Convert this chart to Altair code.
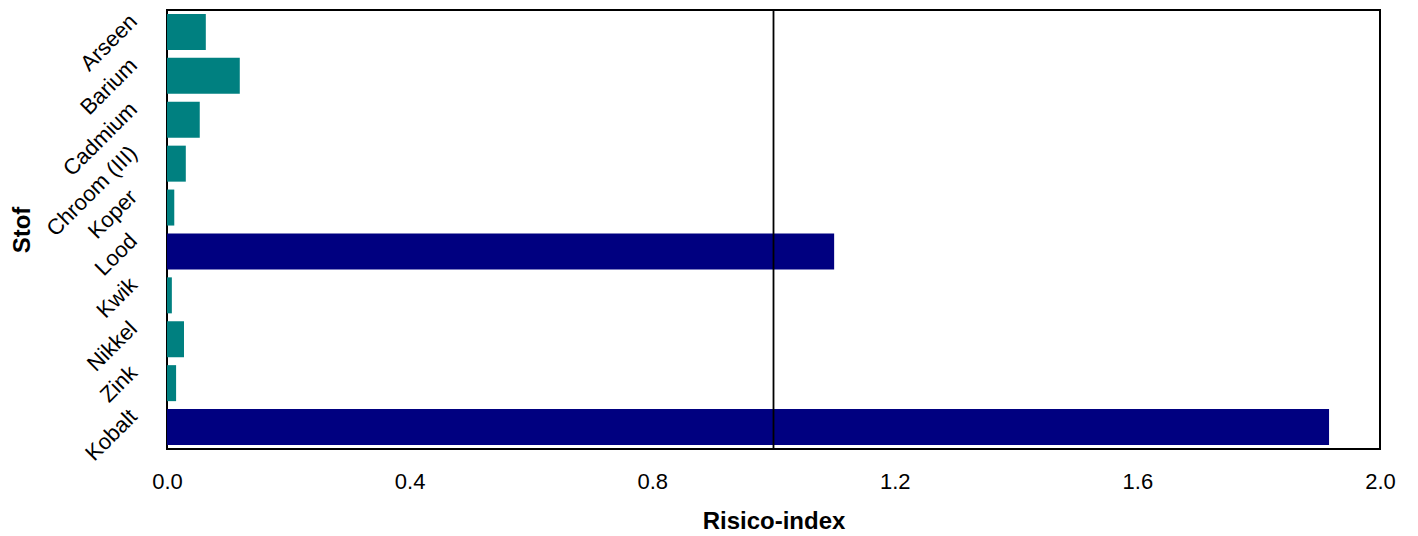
import altair as alt
import pandas as pd

stoffen = ["Arseen", "Barium", "Cadmium", "Chroom (III)", "Koper",
           "Lood", "Kwik", "Nikkel", "Zink", "Kobalt"]
risico = [0.064, 0.120, 0.054, 0.031, 0.012, 1.100, 0.008, 0.028, 0.015, 1.916]
kleuren = ["#008080", "#008080", "#008080", "#008080", "#008080",
           "#000080", "#008080", "#008080", "#008080", "#000080"]
x_ticks = [0.0, 0.4, 0.8, 1.2, 1.6, 2.0]
grens = [1.0]

df = pd.DataFrame({"stof": stoffen, "risico": risico, "kleur": kleuren})
ref = pd.DataFrame({"risico": grens})

FONT = "Liberation Sans"

x_axis = alt.Axis(
    title="Risico-index", values=x_ticks, format=".1f",
    labelFont=FONT, labelFontSize=22, labelColor="black",
    labelBaseline="alphabetic", labelPadding=39, labelFlush=False,
    ticks=False, tickSize=0, domain=False, grid=False,
    titleFont=FONT, titleFontSize=24, titleFontWeight="bold", titleColor="black",
    titleY=79, titleBaseline="alphabetic",
)
x_scale = alt.Scale(domain=[0, 2], nice=False, zero=True)

bars = alt.Chart(df).mark_bar().encode(
    y=alt.Y("stof:N", sort=stoffen,
            scale=alt.Scale(paddingInner=0.18, paddingOuter=0.09),
            axis=alt.Axis(
                title="Stof",
                labelFont=FONT, labelFontSize=22, labelColor="black",
                labelAngle=315, labelAlign="right", labelBaseline="middle",
                labelPadding=34, labelOffset=-14,
                ticks=False, tickSize=0, domain=False, grid=False,
                titleFont=FONT, titleFontSize=24, titleFontWeight="bold",
                titleColor="black", titleAngle=270, titleX=-145, titleY=219.5,
                titleAlign="center", titleBaseline="middle",
            )),
    x=alt.X("risico:Q", scale=x_scale, axis=x_axis),
    color=alt.Color("kleur:N", scale=None),
)

rule = alt.Chart(ref).mark_rule(color="black", strokeWidth=1.8).encode(
    x=alt.X("risico:Q", scale=x_scale, axis=x_axis),
)

chart = alt.layer(bars, rule).properties(
    width=1213, height=439,
    autosize=alt.AutoSizeParams(type="none"),
    padding={"left": 159, "top": 2, "right": 22, "bottom": 86},
    background="white",
).configure_view(stroke="black", strokeWidth=2)

chart.save("out.html", embed_options={"renderer": "svg", "actions": False})
